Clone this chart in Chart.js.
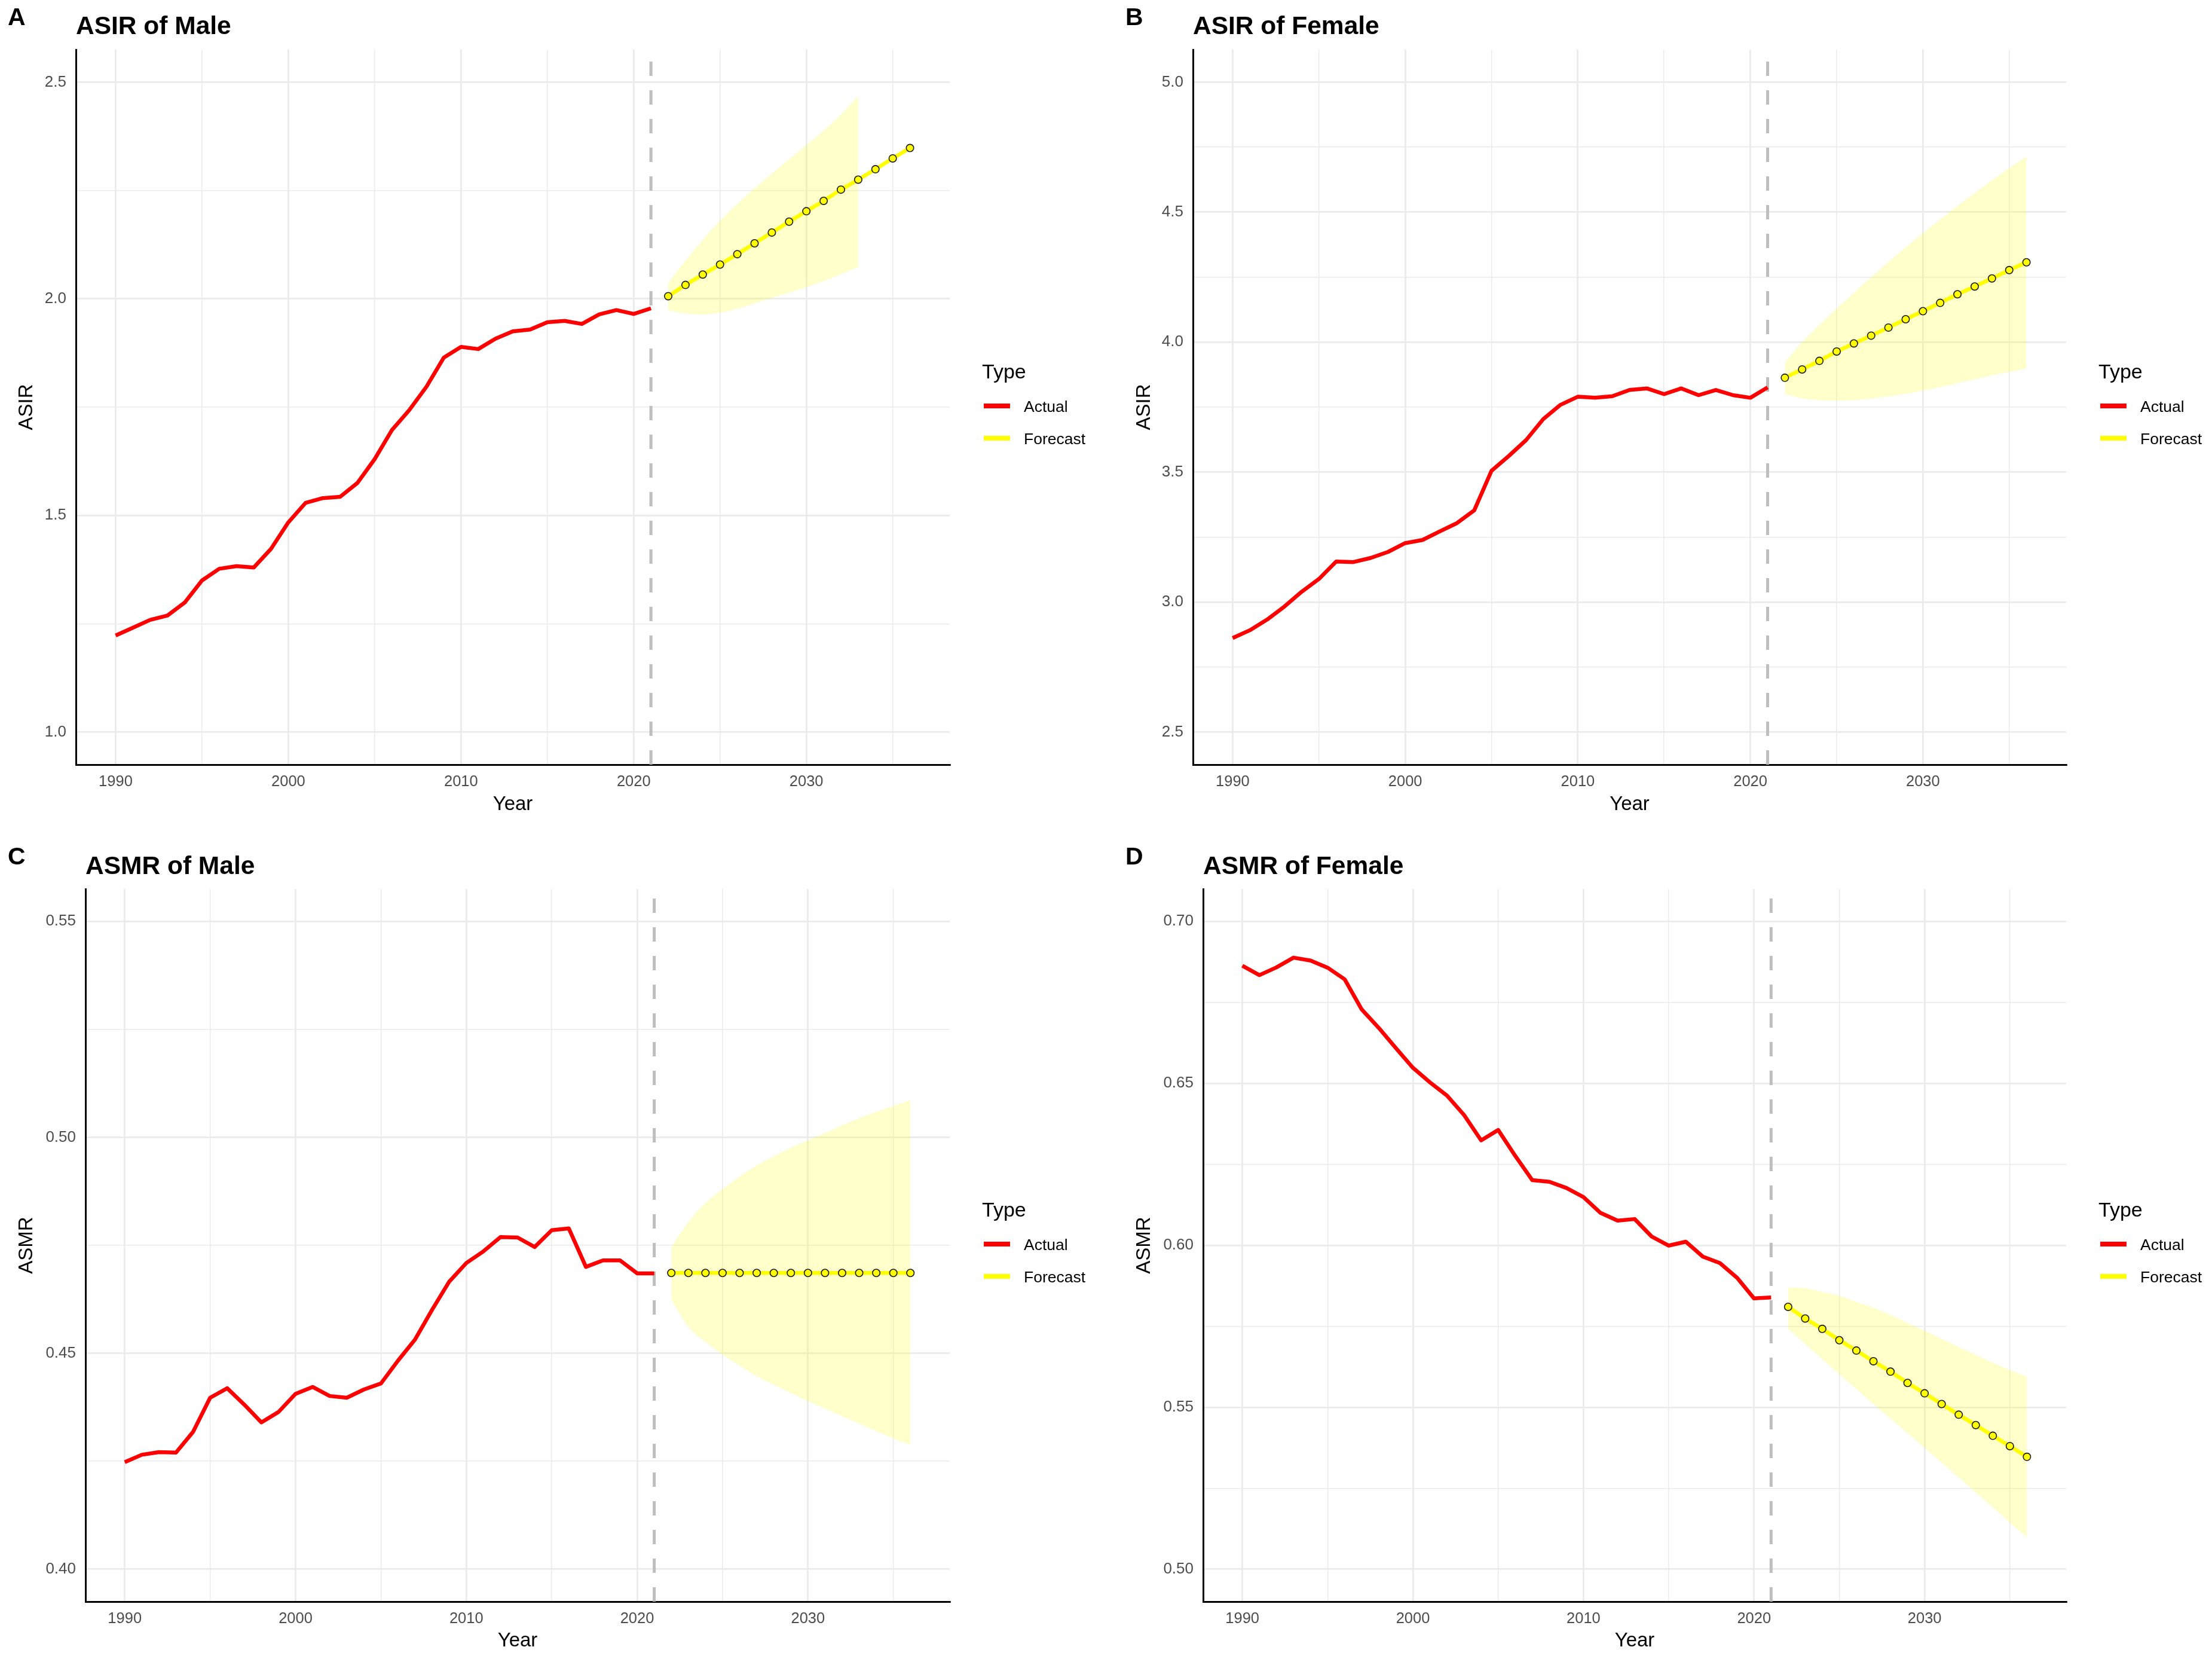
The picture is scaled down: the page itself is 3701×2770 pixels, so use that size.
<!DOCTYPE html>
<html>
<head>
<meta charset="utf-8">
<script src="https://cdn.jsdelivr.net/npm/chart.js@4.4.1/dist/chart.umd.min.js"></script>
<style>
  body { margin: 0; background: #fff; width: 3701px; height: 2770px; position: relative; overflow: hidden;
         font-family: 'Liberation Sans', Arial, sans-serif; color: #000; }
  .panel { position: absolute; }
  .panel canvas { position: absolute; left: 0; top: 0; }
  .txt { position: absolute; white-space: nowrap; }
  .tag { font-weight: bold; font-size: 41px; line-height: 41px; }
  .ttl { font-weight: bold; font-size: 42.5px; line-height: 42.5px; }
  .lgt { font-size: 34px; line-height: 34px; }
  .lgi { font-size: 26.5px; line-height: 26.5px; }
  .key { position: absolute; width: 44px; height: 8px; }
</style>
</head>
<body>
<script>
// years
var actualYears = [1990,1991,1992,1993,1994,1995,1996,1997,1998,1999,2000,2001,2002,2003,2004,2005,
                   2006,2007,2008,2009,2010,2011,2012,2013,2014,2015,2016,2017,2018,2019,2020,2021];
var forecastYears = [2022,2023,2024,2025,2026,2027,2028,2029,2030,2031,2032,2033,2034,2035,2036];
var bandYearsShort = [2022,2023,2024,2025,2026,2027,2028,2029,2030,2031,2032,2033];
var cutYear = 2021;

// A: ASIR of Male
var asirMale = [1.223,1.241,1.259,1.269,1.299,1.350,1.377,1.383,1.380,1.423,1.484,1.529,1.540,1.543,1.575,1.630,
                1.697,1.743,1.797,1.864,1.889,1.884,1.908,1.925,1.929,1.946,1.949,1.942,1.964,1.974,1.965,1.978];
var asirMaleFc = [2.006,2.032,2.056,2.079,2.103,2.128,2.153,2.178,2.202,2.226,2.252,2.275,2.299,2.324,2.348];
var asirMaleHi = [2.037,2.088,2.136,2.180,2.219,2.255,2.289,2.322,2.355,2.388,2.425,2.468];
var asirMaleLo = [1.973,1.966,1.964,1.968,1.977,1.989,2.002,2.014,2.027,2.041,2.057,2.073];

// B: ASIR of Female
var asirFemale = [2.862,2.892,2.933,2.983,3.040,3.089,3.156,3.154,3.170,3.193,3.227,3.239,3.272,3.304,3.353,3.505,
                  3.562,3.623,3.704,3.759,3.790,3.786,3.792,3.816,3.822,3.800,3.822,3.796,3.816,3.796,3.786,3.826];
var asirFemaleFc = [3.863,3.895,3.928,3.964,3.995,4.025,4.056,4.088,4.119,4.151,4.184,4.214,4.245,4.277,4.307];
var asirFemaleHi = [3.922,4.000,4.066,4.129,4.190,4.250,4.308,4.364,4.419,4.472,4.524,4.573,4.622,4.669,4.714];
var asirFemaleLo = [3.800,3.784,3.777,3.775,3.777,3.783,3.791,3.801,3.814,3.827,3.842,3.857,3.872,3.885,3.899];

// C: ASMR of Male
var asmrMale = [0.4248,0.4265,0.4271,0.4270,0.4318,0.4397,0.4419,0.4381,0.4340,0.4364,0.4406,0.4422,0.4401,0.4397,0.4416,0.4430,
                0.4483,0.4532,0.4601,0.4666,0.4709,0.4736,0.4769,0.4768,0.4746,0.4785,0.4789,0.4700,0.4715,0.4715,0.4685,0.4685];
var asmrMaleFc = [0.4686,0.4686,0.4686,0.4686,0.4686,0.4686,0.4686,0.4686,0.4686,0.4686,0.4686,0.4686,0.4686,0.4686,0.4686];
var asmrMaleHi = [0.4746,0.4804,0.4848,0.4880,0.4909,0.4935,0.4956,0.4976,0.4993,0.5010,0.5028,0.5044,0.5059,0.5073,0.5086];
var asmrMaleLo = [0.4624,0.4561,0.4526,0.4497,0.4471,0.4447,0.4427,0.4408,0.4389,0.4372,0.4354,0.4337,0.4320,0.4303,0.4288];

// D: ASMR of Female
var asmrFemale = [0.6863,0.6834,0.6858,0.6888,0.6879,0.6857,0.6821,0.6728,0.6671,0.6609,0.6548,0.6503,0.6462,0.6402,0.6324,0.6356,
                  0.6276,0.6201,0.6196,0.6177,0.6149,0.6100,0.6076,0.6081,0.6027,0.5999,0.6011,0.5965,0.5945,0.5900,0.5836,0.5839];
var asmrFemaleFc = [0.5810,0.5774,0.5742,0.5707,0.5675,0.5642,0.5610,0.5575,0.5543,0.5510,0.5477,0.5445,0.5412,0.5380,0.5347];
var asmrFemaleHi = [0.5870,0.5867,0.5856,0.5844,0.5825,0.5807,0.5785,0.5760,0.5736,0.5711,0.5686,0.5662,0.5637,0.5615,0.5594];
var asmrFemaleLo = [0.5742,0.5696,0.5648,0.5602,0.5556,0.5510,0.5465,0.5420,0.5375,0.5329,0.5283,0.5237,0.5191,0.5144,0.5098];

// ticks
var xTicks = [1990,1995,2000,2005,2010,2015,2020,2025,2030,2035];
var xLabels = [1990,2000,2010,2020,2030];
var yTicksA = [1.0,1.25,1.5,1.75,2.0,2.25,2.5];
var yLabelsA = [1.0,1.5,2.0,2.5];
var yTicksB = [2.5,2.75,3.0,3.25,3.5,3.75,4.0,4.25,4.5,4.75,5.0];
var yLabelsB = [2.5,3.0,3.5,4.0,4.5,5.0];
var yTicksC = [0.400,0.425,0.450,0.475,0.500,0.525,0.550];
var yLabelsC = [0.40,0.45,0.50,0.55];
var yTicksD = [0.500,0.525,0.550,0.575,0.600,0.625,0.650,0.675,0.700];
var yLabelsD = [0.50,0.55,0.60,0.65,0.70];

Chart.defaults.font.family = "'Liberation Sans', Arial, sans-serif";

var panels = [
  { tag:'A', title:'ASIR of Male', yTitle:'ASIR', x:0, y:0, w:1850, h:1385,
    plot:{left:127, right:1589, top:83, bottom:1279}, yMin:0.925, yMax:2.575,
    yTicks:yTicksA, yLabels:yLabelsA, dec:1, yTitleX:45, xTitleY:1346,
    tagX:13, tagY:28, titleY:43, lgY:[620.5,679,733],
    actual:asirMale, fc:asirMaleFc, bandYears:bandYearsShort, hi:asirMaleHi, lo:asirMaleLo },
  { tag:'B', title:'ASIR of Female', yTitle:'ASIR', x:1850, y:0, w:1851, h:1385,
    plot:{left:146, right:1607, top:83, bottom:1279}, yMin:2.375, yMax:5.125,
    yTicks:yTicksB, yLabels:yLabelsB, dec:1, yTitleX:65, xTitleY:1346,
    tagX:33, tagY:28, titleY:43, lgY:[620.5,679,733],
    actual:asirFemale, fc:asirFemaleFc, bandYears:forecastYears, hi:asirFemaleHi, lo:asirFemaleLo },
  { tag:'C', title:'ASMR of Male', yTitle:'ASMR', x:0, y:1385, w:1850, h:1385,
    plot:{left:143, right:1589, top:102, bottom:1294}, yMin:0.3925, yMax:0.5575,
    yTicks:yTicksC, yLabels:yLabelsC, dec:2, yTitleX:45, xTitleY:1360,
    tagX:13, tagY:47, titleY:63, lgY:[637.5,696,750],
    actual:asmrMale, fc:asmrMaleFc, bandYears:forecastYears, hi:asmrMaleHi, lo:asmrMaleLo },
  { tag:'D', title:'ASMR of Female', yTitle:'ASMR', x:1850, y:1385, w:1851, h:1385,
    plot:{left:163, right:1607, top:102, bottom:1294}, yMin:0.49, yMax:0.71,
    yTicks:yTicksD, yLabels:yLabelsD, dec:2, yTitleX:65, xTitleY:1360,
    tagX:33, tagY:47, titleY:63, lgY:[637.5,696,750],
    actual:asmrFemale, fc:asmrFemaleFc, bandYears:forecastYears, hi:asmrFemaleHi, lo:asmrFemaleLo }
];

function pairs(xs, ys) {
  var out = [];
  for (var i = 0; i < xs.length; i++) out.push({x: xs[i], y: ys[i]});
  return out;
}
function inList(list, v) {
  for (var i = 0; i < list.length; i++) if (Math.abs(list[i] - v) < 1e-9) return true;
  return false;
}
function addText(box, cls, text, left, cy, size) {
  var d = document.createElement('div');
  d.className = 'txt ' + cls;
  d.textContent = text;
  d.style.left = left + 'px';
  d.style.top = (cy - size / 2) + 'px';
  box.appendChild(d);
}
function addKey(box, left, cy, color) {
  var k = document.createElement('div');
  k.className = 'key';
  k.style.left = left + 'px';
  k.style.top = (cy - 4) + 'px';
  k.style.background = color;
  box.appendChild(k);
}

var xMin = 1987.7, xMax = 2038.3;

panels.forEach(function(p) {
  var box = document.createElement('div');
  box.className = 'panel';
  box.style.left = p.x + 'px'; box.style.top = p.y + 'px';
  box.style.width = p.w + 'px'; box.style.height = p.h + 'px';
  var cv = document.createElement('canvas');
  cv.width = p.w; cv.height = p.h;
  box.appendChild(cv);
  document.body.appendChild(box);

  // tag, title and legend
  var lgX = p.plot.right + 54;
  addText(box, 'tag', p.tag, p.tagX, p.tagY, 41);
  addText(box, 'ttl', p.title, p.plot.left, p.titleY, 42.5);
  addText(box, 'lgt', 'Type', lgX, p.lgY[0], 34);
  addKey(box, lgX + 3, p.lgY[1], '#FF0000');
  addText(box, 'lgi', 'Actual', lgX + 70, p.lgY[1] + 1.5, 26.5);
  addKey(box, lgX + 3, p.lgY[2], '#FFFF00');
  addText(box, 'lgi', 'Forecast', lgX + 70, p.lgY[2] + 1.5, 26.5);

  new Chart(cv, {
    type: 'line',
    data: {
      datasets: [
        { label: 'Forecast', data: pairs(forecastYears, p.fc), order: 0,
          borderColor: '#FFFF00', borderWidth: 6.5, borderJoinStyle: 'round', fill: false,
          pointRadius: 6.2, pointBackgroundColor: '#FFFF00', pointBorderColor: '#1a1a1a', pointBorderWidth: 1.6 },
        { label: 'Actual', data: pairs(actualYears, p.actual), order: 1,
          borderColor: '#FF0000', borderWidth: 6.5, borderJoinStyle: 'round', fill: false, pointRadius: 0 },
        { label: 'cut', data: [{x: cutYear, y: p.yMin}, {x: cutYear, y: p.yMax}], order: 2,
          borderColor: '#BEBEBE', borderWidth: 5, borderDash: [24, 24], fill: false, pointRadius: 0 },
        { label: 'upper', data: pairs(p.bandYears, p.hi), order: 3, cubicInterpolationMode: 'monotone',
          borderColor: 'rgba(0,0,0,0)', borderWidth: 0, pointRadius: 0,
          backgroundColor: 'rgba(255,255,0,0.2)', fill: '+1' },
        { label: 'lower', data: pairs(p.bandYears, p.lo), order: 4, cubicInterpolationMode: 'monotone',
          borderColor: 'rgba(0,0,0,0)', borderWidth: 0, pointRadius: 0, fill: false }
      ]
    },
    options: {
      responsive: false,
      devicePixelRatio: 1,
      animation: false,
      layout: { padding: { left: 0, top: p.plot.top, right: p.w - p.plot.right, bottom: 0 } },
      plugins: { legend: { display: false }, title: { display: false }, tooltip: { enabled: false } },
      scales: {
        x: {
          type: 'linear', min: xMin, max: xMax,
          afterBuildTicks: function(s) { s.ticks = xTicks.map(function(v) { return {value: v}; }); },
          afterFit: function(s) { s.height = p.h - p.plot.bottom; },
          ticks: {
            autoSkip: false, maxRotation: 0, padding: 16, color: '#4D4D4D',
            font: { size: 25.5, lineHeight: 1 },
            callback: function(v) { return inList(xLabels, v) ? String(v) : ''; }
          },
          grid: {
            color: '#EBEBEB', drawTicks: false,
            lineWidth: function(c) { return (c.tick && inList(xLabels, c.tick.value)) ? 2.8 : 1.5; }
          },
          border: { display: true, color: '#000', width: 3 },
          title: { display: true, text: 'Year', color: '#000', font: { size: 33, lineHeight: 1 },
                   padding: { top: 0, bottom: (p.h - p.xTitleY) - 16.5 } }
        },
        y: {
          type: 'linear', min: p.yMin, max: p.yMax,
          afterBuildTicks: function(s) { s.ticks = p.yTicks.map(function(v) { return {value: v}; }); },
          afterFit: function(s) { s.width = p.plot.left; },
          ticks: {
            autoSkip: false, padding: 16, color: '#4D4D4D',
            font: { size: 26, lineHeight: 1 },
            callback: function(v) { return inList(p.yLabels, v) ? v.toFixed(p.dec) : ''; }
          },
          grid: {
            color: '#EBEBEB', drawTicks: false,
            lineWidth: function(c) { return (c.tick && inList(p.yLabels, c.tick.value)) ? 2.8 : 1.5; }
          },
          border: { display: true, color: '#000', width: 3 },
          title: { display: true, text: p.yTitle, color: '#000', font: { size: 33, lineHeight: 1 },
                   padding: { top: p.yTitleX - 16.5, bottom: 0 } }
        }
      }
    }
  });
});
</script>
</body>
</html>
